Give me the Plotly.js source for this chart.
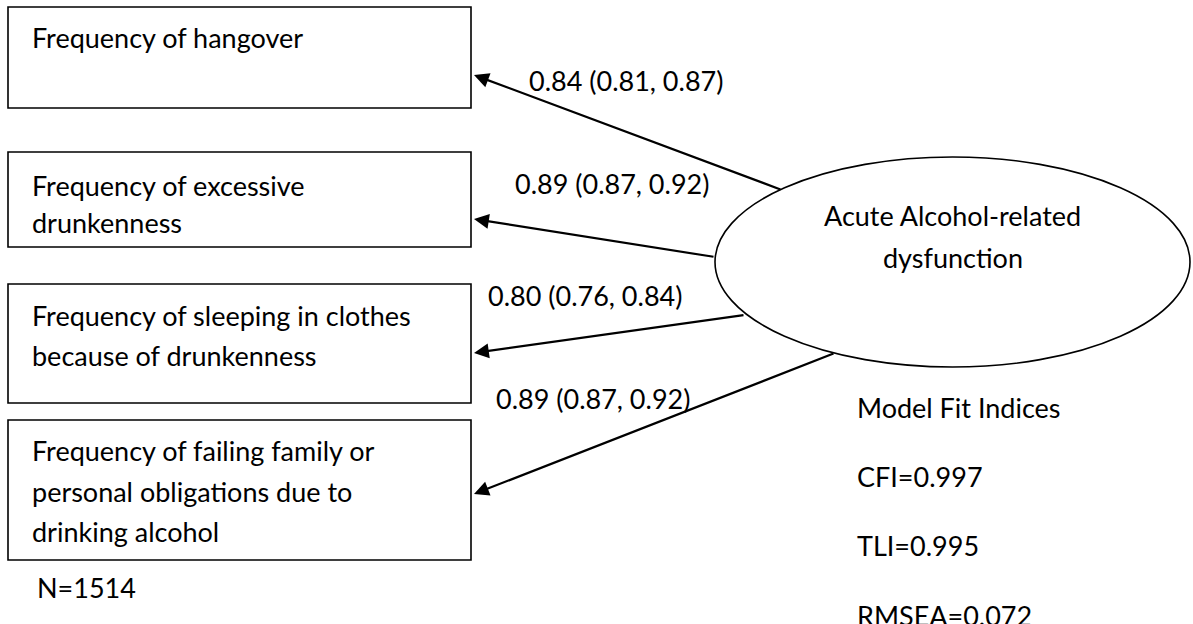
<!DOCTYPE html>
<html>
<head>
<meta charset="utf-8">
<script src="https://cdn.plot.ly/plotly-3.0.1.min.js"></script>
<style>
  html, body { margin: 0; padding: 0; background: #ffffff; }
  #chart { width: 1193px; height: 624px; }
</style>
</head>
<body>
<div id="chart"></div>
<script>
// ---------------- DATA ----------------
var indicatorLines = [
  ["Frequency of hangover"],
  ["Frequency of excessive", "drunkenness"],
  ["Frequency of sleeping in clothes", "because of drunkenness"],
  ["Frequency of failing family or", "personal obligations due to", "drinking alcohol"]
];
var factorLines = ["Acute Alcohol-related", "dysfunction"];
var loadings = [0.84, 0.89, 0.80, 0.89];
var ciLower  = [0.81, 0.87, 0.76, 0.87];
var ciUpper  = [0.87, 0.92, 0.84, 0.92];
var fitTitle = "Model Fit Indices";
var fitNames  = ["CFI", "TLI", "RMSEA"];
var fitValues = ["0.997", "0.995", "0.072"];
var sampleSize = 1514;

// ---------------- GEOMETRY (layout only) ----------------
var W = 1193, H = 624;
var boxX = [8, 471];
var boxY = [[7, 108], [152, 247], [284, 403], [420, 560]];
var boxLineY = [[37], [185, 222], [315, 355], [450, 491, 531]];
var textX = 30;
var ell = {x0: 715, x1: 1190, y0: 157, y1: 367};
var ellTextY = [215, 257];
var arrowTail = [[782, 190], [715, 257], [745, 315], [835, 353]];
var arrowTipY = [75, 219, 353, 494];
var arrowTipX = 474;
var labelPos = [[527, 80], [513, 183], [486, 295], [494, 398]];
var fitX = 855, fitY = [407, 476, 545, 615];
var nPos = [35, 587];

var FONT = {family: 'Lato, "Open Sans", sans-serif', size: 27, color: '#000000'};

var shapes = [];
var annotations = [];

function txt(x, y, s, anchor) {
  annotations.push({
    x: x, y: y, xref: 'x', yref: 'y', text: s, showarrow: false,
    xanchor: anchor || 'left', yanchor: 'middle', font: FONT
  });
}

// observed indicator boxes
indicatorLines.forEach(function (lines, i) {
  shapes.push({type: 'rect', xref: 'x', yref: 'y',
    x0: boxX[0], x1: boxX[1], y0: boxY[i][0], y1: boxY[i][1],
    line: {color: '#000000', width: 1.6}, fillcolor: 'rgba(0,0,0,0)'});
  lines.forEach(function (ln, j) { txt(textX, boxLineY[i][j], ln); });
});

// latent factor ellipse
shapes.push({type: 'circle', xref: 'x', yref: 'y',
  x0: ell.x0, x1: ell.x1, y0: ell.y0, y1: ell.y1,
  line: {color: '#000000', width: 1.6}, fillcolor: '#ffffff'});
factorLines.forEach(function (ln, j) { txt((ell.x0 + ell.x1) / 2, ellTextY[j], ln, 'center'); });

// loadings: arrows + labels
loadings.forEach(function (l, i) {
  annotations.push({
    x: arrowTipX, y: arrowTipY[i], xref: 'x', yref: 'y',
    ax: arrowTail[i][0], ay: arrowTail[i][1], axref: 'x', ayref: 'y',
    text: '', showarrow: true, arrowhead: 2, arrowsize: 1.35, arrowwidth: 2.2,
    arrowcolor: '#000000', standoff: 0, startstandoff: 0
  });
  txt(labelPos[i][0], labelPos[i][1],
      l.toFixed(2) + ' (' + ciLower[i].toFixed(2) + ', ' + ciUpper[i].toFixed(2) + ')');
});

// fit indices
txt(fitX, fitY[0], fitTitle);
fitNames.forEach(function (n, i) { txt(fitX, fitY[i + 1], n + '=' + fitValues[i]); });

// sample size
txt(nPos[0], nPos[1], 'N=' + sampleSize);

var layout = {
  width: W, height: H,
  margin: {l: 0, r: 0, t: 0, b: 0, pad: 0},
  paper_bgcolor: '#ffffff', plot_bgcolor: '#ffffff',
  showlegend: false,
  xaxis: {range: [0, W], visible: false, showgrid: false, zeroline: false, fixedrange: true},
  yaxis: {range: [H, 0], visible: false, showgrid: false, zeroline: false, fixedrange: true},
  shapes: shapes,
  annotations: annotations
};

Plotly.newPlot('chart', [{x: [], y: [], type: 'scatter', mode: 'markers', hoverinfo: 'skip'}], layout,
  {staticPlot: true, displayModeBar: false});
</script>
</body>
</html>
